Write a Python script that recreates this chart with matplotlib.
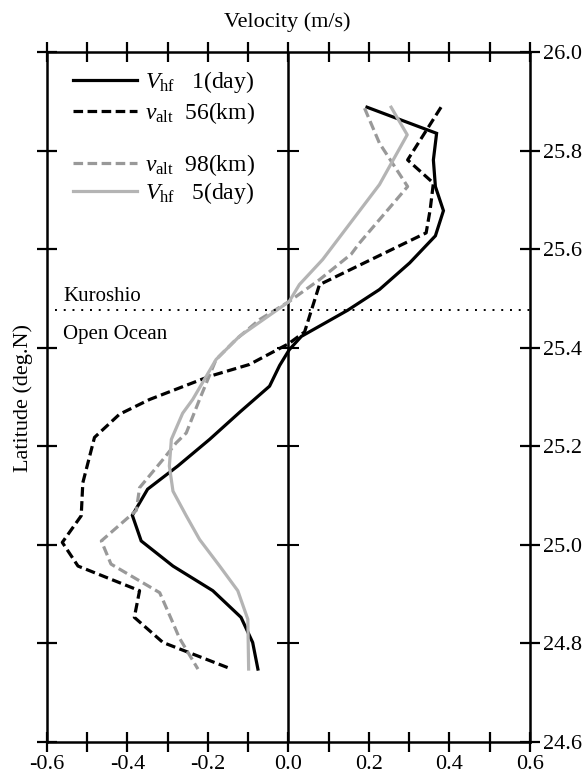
import numpy as np
import matplotlib
matplotlib.use("Agg")
import matplotlib.pyplot as plt

plt.rcParams['font.family'] = ['Liberation Serif', 'DejaVu Serif']
plt.rcParams['mathtext.fontset'] = 'custom'
plt.rcParams['mathtext.rm'] = 'Liberation Serif'
plt.rcParams['mathtext.it'] = 'Liberation Serif:italic'

# V_hf, 1 day
lat_hf1 = [25.888, 25.835, 25.781, 25.727, 25.678, 25.627, 25.572, 25.518,
           25.476, 25.423, 25.396, 25.364, 25.322, 25.270, 25.214, 25.160,
           25.113, 25.060, 25.008, 24.957, 24.907, 24.853, 24.802, 24.748]
vel_hf1 = [0.195, 0.368, 0.360, 0.365, 0.385, 0.365, 0.301, 0.226,
           0.147, 0.032, 0.002, -0.022, -0.047, -0.120, -0.196, -0.275,
           -0.350, -0.388, -0.366, -0.287, -0.188, -0.118, -0.089, -0.076]

# v_alt, 56 km
lat_alt56 = [25.888, 25.781, 25.734, 25.680, 25.633, 25.528, 25.432, 25.408,
             25.366, 25.342, 25.295, 25.265, 25.218, 25.126, 25.059, 25.005,
             24.957, 24.907, 24.853, 24.802, 24.751]
vel_alt56 = [0.379, 0.296, 0.360, 0.352, 0.342, 0.077, 0.040, 0.000,
             -0.097, -0.196, -0.345, -0.420, -0.482, -0.511, -0.515, -0.562,
             -0.523, -0.370, -0.383, -0.312, -0.151]

# v_alt, 98 km
lat_alt98 = [25.886, 25.815, 25.727, 25.612, 25.590, 25.538, 25.494, 25.457,
             25.417, 25.376, 25.295, 25.227, 25.207, 25.173, 25.116, 25.070,
             25.008, 24.961, 24.903, 24.849, 24.811, 24.748]
vel_alt98 = [0.189, 0.226, 0.296, 0.176, 0.156, 0.077, 0.002, -0.072,
             -0.130, -0.180, -0.221, -0.254, -0.279, -0.312, -0.370, -0.378,
             -0.465, -0.441, -0.320, -0.291, -0.271, -0.225]

# V_hf, 5 day
lat_hf5 = [25.888, 25.832, 25.731, 25.579, 25.528, 25.494, 25.423, 25.376,
           25.295, 25.267, 25.214, 25.160, 25.109, 25.059, 25.011, 24.957,
           24.907, 24.849, 24.748]
vel_hf5 = [0.255, 0.295, 0.226, 0.085, 0.027, 0.002, -0.122, -0.180,
           -0.238, -0.263, -0.291, -0.296, -0.287, -0.254, -0.221, -0.171,
           -0.126, -0.101, -0.099]

boundary_lat = 25.476
lat_ticks = [24.6, 24.8, 25.0, 25.2, 25.4, 25.6, 25.8, 26.0]
vel_ticks = [-0.6, -0.4, -0.2, 0.0, 0.2, 0.4, 0.6]
vel_minor = [-0.5, -0.3, -0.1, 0.1, 0.3, 0.5]

fig = plt.figure(figsize=(5.86, 7.76), dpi=100)
ax = fig.add_axes([0.0802, 0.0438, 0.8242, 0.8892])

lw = 2.3
l1, = ax.plot(vel_hf1, lat_hf1, color='black', lw=lw, solid_joinstyle='miter')
l2, = ax.plot(vel_alt56, lat_alt56, color='black', lw=lw, dashes=(3, 1.4))
l3, = ax.plot(vel_alt98, lat_alt98, color='#999999', lw=lw, dashes=(3, 1.4))
l4, = ax.plot(vel_hf5, lat_hf5, color='#b4b4b4', lw=lw)

# center line with its own ticks
ax.axvline(0, color='black', lw=1.8, zorder=1)
ax.plot(np.zeros(len(lat_ticks) - 2), lat_ticks[1:-1], ls='none',
        marker='_', ms=16, mew=1.5, color='black')

# Kuroshio / open ocean boundary
ax.hlines(boundary_lat, -0.58, 0.6, colors='black', lw=1.4,
          linestyles=(0, (1, 3.5)))
ax.text(-0.559, 25.4955, 'Kuroshio', fontsize=15, va='baseline')
ax.text(-0.559, 25.4186, 'Open Ocean', fontsize=15, va='baseline')

ax.set_xlim(-0.6, 0.6)
ax.set_ylim(24.6, 26.0)
ax.set_xticks(vel_ticks)
ax.set_xticklabels(['%.1f' % v for v in vel_ticks])
ax.set_xticks(vel_minor, minor=True)
ax.set_yticks(lat_ticks)
ax.set_yticklabels(['%.1f' % v for v in lat_ticks])

ax.tick_params(axis='both', which='both', direction='inout', length=15,
               width=1.6, labelsize=16)
ax.tick_params(axis='x', which='both', top=True, bottom=True,
               labeltop=False, labelbottom=True, pad=2)
ax.tick_params(axis='y', which='both', left=True, right=True,
               labelleft=False, labelright=True, pad=2)
for s in ax.spines.values():
    s.set_linewidth(1.8)

fig.text(0.49, 1 - 22 / 776, 'Velocity (m/s)', fontsize=16,
         ha='center', va='center')
fig.text(23 / 586, 1 - 398 / 776, 'Latitude (deg.N)', fontsize=16,
         rotation=90, ha='center', va='center')

leg1 = ax.legend([l1, l2],
                 [r'$V_{\mathrm{hf}}$   1(day)', r'$v_{\mathrm{alt}}$  56(km)'],
                 loc='upper left', bbox_to_anchor=(0.054, 0.975),
                 frameon=False, fontsize=17, handlelength=2.7,
                 handletextpad=0.35, labelspacing=0.2, borderpad=0,
                 borderaxespad=0)
ax.add_artist(leg1)
ax.legend([l3, l4],
          [r'$v_{\mathrm{alt}}$  98(km)', r'$V_{\mathrm{hf}}$   5(day)'],
          loc='upper left', bbox_to_anchor=(0.054, 0.855),
          frameon=False, fontsize=17, handlelength=2.7,
          handletextpad=0.35, labelspacing=0.1, borderpad=0,
          borderaxespad=0)

fig.savefig('out.png', dpi=100)
